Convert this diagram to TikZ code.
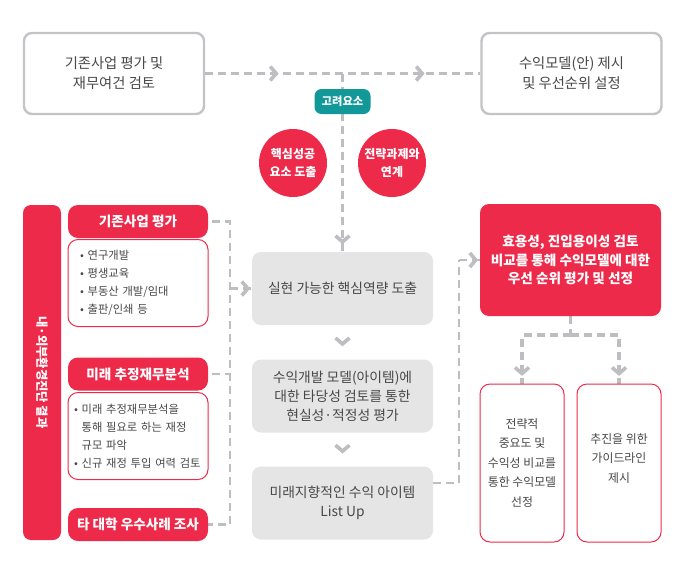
\documentclass[tikz,border=0pt]{standalone}
\usepackage{fontspec}
\setmainfont{Noto Sans CJK KR}
\usetikzlibrary{decorations.markings,calc}
\definecolor{cred}{RGB}{238,42,74}
\definecolor{cteal}{RGB}{19,152,154}
\definecolor{lgray}{RGB}{190,190,194}
\definecolor{bordgray}{RGB}{196,196,200}
\definecolor{bgray}{RGB}{229,229,229}
\definecolor{tgray}{RGB}{72,72,72}
\pgfdeclarelayer{back}
\pgfdeclarelayer{bg}
\pgfsetlayers{back,bg,main}
\tikzset{
  chevshape/.style={line width=3.6pt, draw=lgray, solid, line join=miter, line cap=butt},
  chevat/.style={postaction={decorate, decoration={markings,
      mark=at position #1 with {\draw[chevshape] (-6pt,7pt) -- (0pt,0pt) -- (-6pt,-7pt);}}}},
  dline/.style={draw=lgray, line width=3.2pt, dash pattern=on 8pt off 5pt},
  dlinethin/.style={draw=lgray, line width=2.8pt, dash pattern=on 8pt off 5pt},
  topbox/.style={draw=bordgray, line width=2.4pt, rounded corners=8pt, fill=white,
      minimum width=180pt, minimum height=81pt, align=center, text=tgray,
      font=\fontsize{14.3}{20}\selectfont},
  tagbox/.style={fill=cteal, rounded corners=7pt, minimum width=56pt, minimum height=25pt,
      text=white, inner sep=0pt, font=\fontsize{11.3}{12}\selectfont\bfseries},
  circ/.style={circle, fill=cred, minimum size=68pt, inner sep=0pt, text=white,
      align=center, font=\fontsize{12}{18}\selectfont\bfseries},
  barbox/.style={fill=cred, rounded corners=8pt, minimum width=335pt, minimum height=38pt,
      rotate=-90, text=white, font=\fontsize{12.3}{13}\selectfont\bfseries},
  hdr/.style={fill=cred, rounded corners=10pt, minimum width=140pt, minimum height=33pt,
      text=white, font=\fontsize{13.6}{14}\selectfont\bfseries},
  bodyb/.style={draw=cred, line width=1pt, fill=white, rounded corners=10pt,
      minimum width=140pt, minimum height=87pt, text width=#1, inner xsep={(140pt-#1)/2},
      align=left, text=tgray, font=\fontsize{11.3}{18}\selectfont},
  midbox/.style={fill=bgray, rounded corners=9pt, minimum width=181pt, minimum height=73pt,
      align=center, text=tgray, font=\fontsize{13.8}{19}\selectfont},
  redbox/.style={fill=cred, rounded corners=9pt, minimum width=181pt, minimum height=112pt,
      align=center, text=white, font=\fontsize{13.6}{18.5}\selectfont\bfseries},
  outbox/.style={draw=cred, line width=1pt, fill=white, rounded corners=10pt,
      minimum width=84pt, minimum height=158pt, align=center, text=tgray,
      font=\fontsize{11.9}{19.5}\selectfont},
}
\begin{document}
\begin{tikzpicture}[x=1pt,y=-1pt]
\useasboundingbox (0,0) rectangle (700,576);
\begin{pgfonlayer}{back}
\fill[white] (0,0) rectangle (700,576);
\end{pgfonlayer}

% top row
\node[topbox] (tl) at (114,73.5) {기존사업 평가 및\\재무여건 검토};
\node[topbox] (tr) at (571.5,73.5) {수익모델(안) 제시\\및 우선순위 설정};
\node[tagbox] (tag) at (342.5,101.5) {고려요소};
\node[circ] (c1) at (293,163) {핵심성공\\요소 도출};
\node[circ] (c2) at (392,163) {전략과제와\\연계};

% left column
\node[barbox] (lb) at (42,372.5) {내·외부환경진단 결과};
\node[hdr] (h1) at (138,221.5) {기존사업 평가};
\node[bodyb=116pt] (d1) at (138,283) {• 연구개발\\• 평생교육\\• 부동산 개발/임대\\• 출판/인쇄 등};
\node[hdr] (h2) at (138,374) {미래 추정재무분석};
\node[bodyb=128pt] (d2) at (138,436) {• 미래 추정재무분석을\\\phantom{• }통해 필요로 하는 재정\\\phantom{• }규모 파악\\• 신규 재정 투입 여력 검토};
\node[hdr] (h3) at (138,524.5) {타 대학 우수사례 조사};

% middle column
\node[midbox] (b1) at (342.5,288.5) {실현 가능한 핵심역량 도출};
\node[midbox] (b2) at (342.5,396) {수익개발 모델(아이템)에\\대한 타당성 검토를 통한\\현실성·적정성 평가};
\node[midbox] (b3) at (342.5,503) {미래지향적인 수익 아이템\\List Up};

% right column
\node[redbox] (rb) at (570.5,260) {효용성, 진입용이성 검토\\비교를 통해 수익모델에 대한\\우선 순위 평가 및 선정};
\node[outbox] (bl) at (522,463) {전략적\\중요도 및\\수익성 비교를\\통한 수익모델\\선정};
\node[outbox, text depth=10pt] (br) at (619,463) {추진을 위한\\가이드라인\\제시};

\coordinate (tj) at (342.5,73.5);
\coordinate (lj) at (230,288.5);
\coordinate (rj) at (459,260);
\coordinate (sp) at (570.5,335);

\begin{pgfonlayer}{bg}
\draw[dline, chevat=71pt, chevat=217pt] (tl.east) -- (tr.west);
\draw[dline, chevat=-10pt] (tj) -- (b1.north);
\draw[dlinethin, shorten <=4pt] (h1.east) -- (h1.east -| lj) -- (h3.east -| lj) -- (h3.east);
\draw[dlinethin, shorten <=4pt] (h2.east) -- (h2.east -| lj);
\draw[dlinethin, chevat=-4pt] (lj) -- (b1.west);
\draw[dlinethin] ([yshift=20pt]b3.east) -| (rj);
\draw[dlinethin, chevat=-4pt] (rj) -- (rb.west);
\path[chevat=0.55] (b1.south) -- (b2.north);
\path[chevat=0.55] (b2.south) -- (b3.north);
\draw[dline] (rb.south) -- (sp);
\draw[dline, chevat=-10pt] (sp) -| (bl.north);
\draw[dline, chevat=-10pt] (sp) -| (br.north);
\end{pgfonlayer}
\end{tikzpicture}
\end{document}
